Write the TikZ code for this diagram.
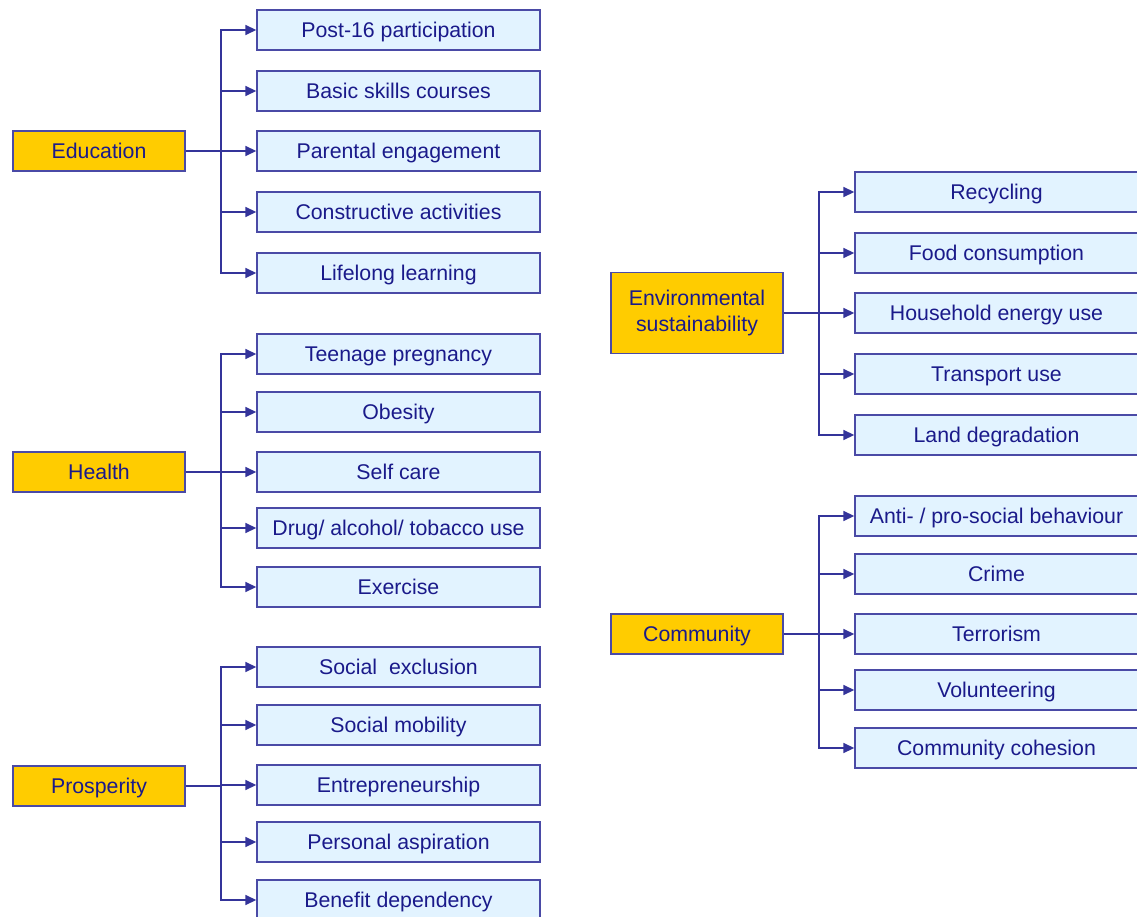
\documentclass[tikz,border=0pt]{standalone}
\usepackage{fontspec}
\setmainfont{Liberation Sans}
\usetikzlibrary{arrows.meta}
\definecolor{txt}{HTML}{1A1A8A}
\definecolor{edge}{HTML}{4A4AA6}
\definecolor{wire}{HTML}{34349A}
\definecolor{leaf}{HTML}{E2F3FF}
\definecolor{gold}{HTML}{FFCC00}
\begin{document}
\begin{tikzpicture}[x=1pt,y=-1pt,
  every node/.style={font=\fontsize{21.3}{25}\selectfont, text=txt, inner sep=0pt},
  oneline/.style={text height=19.6pt, text depth=4.3pt},
  leafbox/.style={draw=edge, line width=1.4pt, fill=leaf, minimum width=283pt, minimum height=40pt, oneline},
  rootbox/.style={draw=edge, line width=1.4pt, fill=gold, minimum width=172pt, minimum height=40pt, align=center},
  stem/.style={draw=wire, line width=2.4pt},
  branch/.style={draw=wire, line width=1.6pt, -{Triangle[length=11pt,width=10pt]}}]
\useasboundingbox (0,0) rectangle (1137,917);
% ---------- Education
\node[rootbox, oneline] (edu) at (99,151) {Education};
\node[leafbox] (e1) at (398.5,30) {Post-16 participation};
\node[leafbox] (e2) at (398.5,91) {Basic skills courses};
\node[leafbox] (e3) at (398.5,151) {Parental engagement};
\node[leafbox] (e4) at (398.5,212) {Constructive activities};
\node[leafbox] (e5) at (398.5,273) {Lifelong learning};
\coordinate (eb) at (221,151);
\draw[stem] (edu.east) -- (eb);
\foreach \c in {e1,e2,e3,e4,e5} \draw[branch] (eb) |- (\c.west);
% ---------- Health
\node[rootbox, oneline] (hea) at (99,472) {Health};
\node[leafbox] (h1) at (398.5,354) {Teenage pregnancy};
\node[leafbox] (h2) at (398.5,412) {Obesity};
\node[leafbox] (h3) at (398.5,472) {Self care};
\node[leafbox] (h4) at (398.5,528) {Drug/ alcohol/ tobacco use};
\node[leafbox] (h5) at (398.5,587) {Exercise};
\coordinate (hb) at (221,472);
\draw[stem] (hea.east) -- (hb);
\foreach \c in {h1,h2,h3,h4,h5} \draw[branch] (hb) |- (\c.west);
% ---------- Prosperity
\node[rootbox, oneline] (pro) at (99,786) {Prosperity};
\node[leafbox] (p1) at (398.5,667) {Social\ \ exclusion};
\node[leafbox] (p2) at (398.5,725) {Social mobility};
\node[leafbox] (p3) at (398.5,785) {Entrepreneurship};
\node[leafbox] (p4) at (398.5,842) {Personal aspiration};
\node[leafbox] (p5) at (398.5,900) {Benefit dependency};
\coordinate (pb) at (221,786);
\draw[stem] (pro.east) -- (pb);
\foreach \c in {p1,p2,p3,p4,p5} \draw[branch] (pb) |- (\c.west);
% ---------- Environmental sustainability
\node[rootbox, minimum height=81pt] (env) at (697,313) {Environmental\\[1pt]sustainability};
\node[leafbox] (s1) at (996.5,192) {Recycling};
\node[leafbox] (s2) at (996.5,253) {Food consumption};
\node[leafbox] (s3) at (996.5,313) {Household energy use};
\node[leafbox] (s4) at (996.5,374) {Transport use};
\node[leafbox] (s5) at (996.5,435) {Land degradation};
\coordinate (sb) at (819,313);
\draw[stem] (env.east) -- (sb);
\foreach \c in {s1,s2,s3,s4,s5} \draw[branch] (sb) |- (\c.west);
% ---------- Community
\node[rootbox, oneline] (com) at (697,634) {Community};
\node[leafbox] (c1) at (996.5,516) {Anti- / pro-social behaviour};
\node[leafbox] (c2) at (996.5,574) {Crime};
\node[leafbox] (c3) at (996.5,634) {Terrorism};
\node[leafbox] (c4) at (996.5,690) {Volunteering};
\node[leafbox] (c5) at (996.5,748) {Community cohesion};
\coordinate (cb) at (819,634);
\draw[stem] (com.east) -- (cb);
\foreach \c in {c1,c2,c3,c4,c5} \draw[branch] (cb) |- (\c.west);
\end{tikzpicture}
\end{document}
